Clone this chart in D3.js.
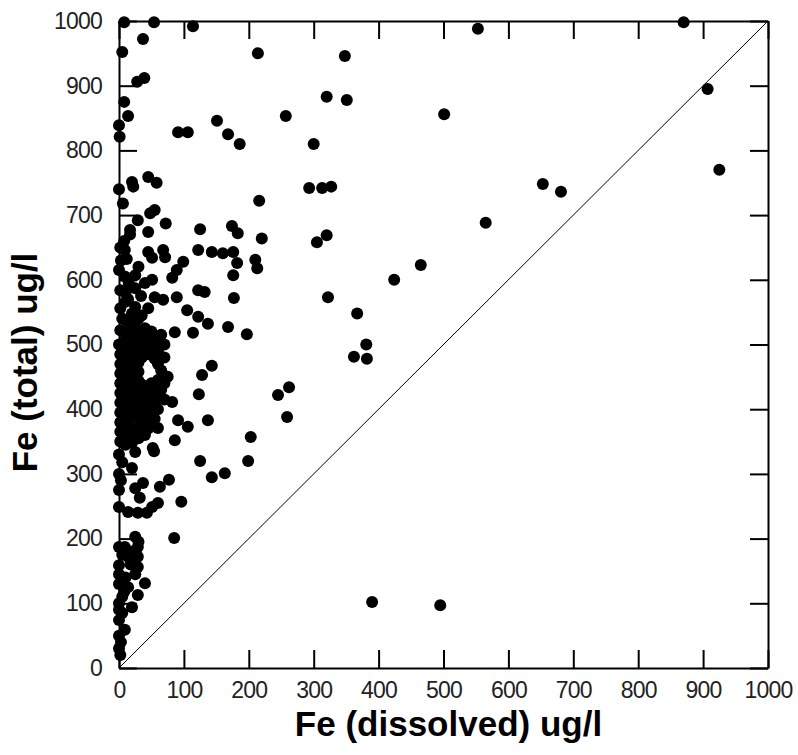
<!DOCTYPE html>
<html>
<head>
<meta charset="utf-8">
<script src="https://cdn.jsdelivr.net/npm/d3@7"></script>
<style>
  body { margin: 0; background: #fff; }
  text { font-family: "Liberation Sans", Arial, sans-serif; }
</style>
</head>
<body>
<script>
// init
var margin = { top: 21, right: 30, bottom: 87, left: 119 },
    width  = 798 - margin.left - margin.right,
    height = 755 - margin.top - margin.bottom;

// tick labels
var tickValues = [0, 100, 200, 300, 400, 500, 600, 700, 800, 900, 1000];

// samples as [dissolved, total] in ug/l
// scattered points away from the y axis
var scattered = [
    [870, 998], [907, 895], [925, 770], [681, 736], [653, 748], [565, 688], [553, 988],
    [501, 856], [465, 623], [424, 600], [390, 102], [495, 97],
    [348, 946], [320, 883], [351, 878], [257, 853], [300, 810], [293, 742], [313, 742],
    [327, 744], [305, 658], [320, 669], [322, 573], [367, 548], [381, 500], [362, 481],
    [382, 478], [262, 434], [245, 422], [259, 388], [214, 950], [114, 992], [216, 722],
    [151, 846], [168, 825], [186, 810], [91, 828], [106, 828],
    [174, 683], [183, 672], [125, 678], [72, 687], [220, 664],
    [122, 646], [143, 643], [160, 641], [176, 643], [182, 626], [176, 607], [210, 631], [213, 618],
    [99, 628], [89, 615], [82, 603], [122, 584], [132, 581], [177, 572], [89, 573],
    [105, 553], [122, 543], [137, 532], [168, 527], [197, 516], [86, 519], [114, 518],
    [143, 467], [128, 453], [123, 423], [75, 450], [82, 411], [91, 383], [106, 373],
    [137, 383], [86, 352], [60, 371], [52, 340], [85, 201], [96, 257], [77, 291], [63, 280],
    [143, 295], [163, 301], [125, 320], [199, 320], [203, 357]
];

// points near the y axis, upper part
var upperColumn = [
    [8, 998], [54, 998], [37, 972], [5, 952], [28, 906], [39, 912], [8, 875], [14, 853],
    [0, 839], [1, 821], [0, 740], [20, 751], [45, 759], [58, 750], [22, 744], [6, 718],
    [55, 708], [48, 703], [29, 692], [17, 677], [17, 670], [45, 674], [9, 646], [45, 643],
    [68, 646], [71, 635], [51, 634], [9, 605], [25, 607], [40, 595], [51, 600], [2, 584],
    [25, 587], [55, 573], [68, 569], [2, 556], [25, 558], [45, 556], [2, 522], [25, 527],
    [60, 510], [2, 650], [3, 630], [0, 615], [5, 540], [0, 500], [12, 632], [15, 595],
    [14, 570], [34, 575], [35, 545], [15, 535], [8, 660], [30, 620]
];

// the dense cluster between 340 and 520
var denseCluster = [
    [2, 350], [2, 365], [2, 380], [2, 395], [2, 410], [2, 425], [2, 440], [2, 455], [2, 470], [2, 485],
    [10, 345], [10, 362], [10, 378], [10, 392], [10, 408], [10, 420], [10, 436], [10, 448], [10, 462],
    [10, 478], [10, 494], [10, 508], [10, 520], [10, 538], [10, 566], [10, 580],
    [20, 348], [20, 370], [20, 388], [20, 402], [20, 418], [20, 432], [20, 446], [20, 460], [20, 474],
    [20, 488], [20, 502], [20, 514], [20, 548],
    [30, 355], [30, 372], [30, 386], [30, 400], [30, 414], [30, 428], [30, 444], [30, 458], [30, 472],
    [30, 486], [30, 498], [30, 512], [30, 540],
    [40, 360], [40, 380], [40, 398], [40, 412], [40, 430], [40, 490], [40, 505],
    [50, 375], [50, 392], [50, 420], [50, 440], [50, 496], [50, 520],
    [60, 400], [60, 425], [60, 445], [60, 470], [60, 490], [60, 505],
    [70, 415], [70, 440], [70, 480], [70, 500],
    [15, 355], [15, 384], [15, 412], [15, 441], [15, 468], [15, 497], [25, 362], [25, 395],
    [25, 425], [25, 452], [25, 481], [25, 507], [35, 365], [35, 392], [35, 421], [35, 438],
    [35, 480], [35, 503], [45, 370], [45, 402], [45, 418], [45, 485], [45, 512], [55, 385],
    [55, 410], [55, 432], [55, 478], [55, 500], [65, 430], [65, 460], [65, 515], [40, 525]
];

// points near the y axis, lower part
var lowerColumn = [
    [0, 330], [5, 318], [0, 300], [3, 290], [0, 275], [20, 309], [37, 286], [25, 278],
    [32, 263], [0, 249], [14, 241], [29, 240], [43, 240], [51, 249], [60, 255], [25, 334], [54, 335],
    [25, 203], [0, 187], [9, 187], [29, 187], [29, 172], [14, 172], [0, 159], [29, 156],
    [0, 145], [10, 140], [0, 130], [14, 125], [40, 131], [29, 113], [5, 110], [20, 94],
    [0, 100], [8, 118], [25, 145], [18, 160], [5, 175], [30, 195], [20, 180],
    [0, 74], [9, 59], [0, 50], [3, 40], [0, 30], [2, 20], [5, 85], [0, 90]
];

var data = scattered.concat(upperColumn, denseCluster, lowerColumn);

// scales
var xScale = d3.scaleLinear().domain([0, 1000]).range([0, width]);
var yScale = d3.scaleLinear().domain([0, 1000]).range([height, 0]);

// create svg
var svg = d3.select('body')
    .append('svg')
    .attr('width', width + margin.left + margin.right)
    .attr('height', height + margin.top + margin.bottom)
    .append('g')
    .attr('transform', 'translate(' + margin.left + ',' + margin.top + ')');

// 1:1 line
svg.append('line')
    .attr('x1', xScale(0)).attr('y1', yScale(0))
    .attr('x2', xScale(1000)).attr('y2', yScale(1000))
    .attr('stroke', '#000')
    .attr('stroke-width', 1);

// points
svg.selectAll('.dot')
    .data(data)
    .enter()
    .append('circle')
    .attr('class', 'dot')
    .attr('cx', function(d) { return xScale(d[0]); })
    .attr('cy', function(d) { return yScale(d[1]); })
    .attr('r', 6)
    .attr('fill', '#000');

/**
 * style an axis group
 * @param {*} g
 */
function styleAxis(g) {
    g.select('.domain').attr('stroke', '#000').attr('stroke-width', 2);
    g.selectAll('.tick line').attr('stroke', '#000').attr('stroke-width', 2);
    g.selectAll('.tick text').attr('fill', '#222')
        .style('font-size', '23px')
        .style('letter-spacing', '-0.8px');
}

var fmt = d3.format('d');

// bottom axis
svg.append('g')
    .attr('transform', 'translate(0,' + height + ')')
    .call(d3.axisBottom(xScale).tickValues(tickValues).tickFormat(fmt).tickSizeInner(-18).tickSizeOuter(0).tickPadding(14))
    .call(styleAxis);

// left axis
svg.append('g')
    .call(d3.axisLeft(yScale).tickValues(tickValues).tickFormat(fmt).tickSizeInner(-18).tickSizeOuter(0).tickPadding(17))
    .call(styleAxis);

// top axis
svg.append('g')
    .call(d3.axisTop(xScale).tickValues(tickValues).tickSizeInner(-18).tickSizeOuter(0).tickFormat(''))
    .call(styleAxis);

// right axis
svg.append('g')
    .attr('transform', 'translate(' + width + ',0)')
    .call(d3.axisRight(yScale).tickValues(tickValues).tickSizeInner(-18).tickSizeOuter(0).tickFormat(''))
    .call(styleAxis);

// axis titles
svg.append('text')
    .attr('x', width / 2 + 5)
    .attr('y', height + 68)
    .attr('text-anchor', 'middle')
    .style('font-size', '35px')
    .style('font-weight', 'bold')
    .text('Fe (dissolved) ug/l');

svg.append('text')
    .attr('transform', 'translate(' + (37 - margin.left) + ',' + (height / 2 + 18) + ') rotate(-90)')
    .attr('text-anchor', 'middle')
    .style('font-size', '35px')
    .style('font-weight', 'bold')
    .text('Fe (total) ug/l');
</script>
</body>
</html>
